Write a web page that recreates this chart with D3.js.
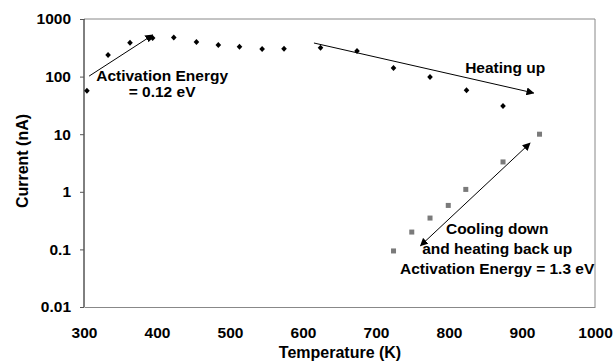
<!DOCTYPE html>
<html>
<head>
<meta charset="utf-8">
<script src="https://cdn.jsdelivr.net/npm/d3@7"></script>
<style>
  body { margin: 0; background: #fff; }
  text { font-family: Arial, "Liberation Sans", sans-serif; font-weight: bold; }
</style>
</head>
<body>
<div id="chart"></div>
<script>
// heating up (diamonds)
const heatT = [304, 333, 363, 390, 394, 423, 454, 484, 513, 544, 574, 624, 674, 724, 774, 824, 874];
const heatI = [57, 237, 388, 470, 470, 475, 399, 354, 330, 301, 305, 318, 278, 141, 98, 58, 31];

// cooling down / heating back up (squares)
const coolT = [724, 749, 774, 799, 823, 874, 924];
const coolI = [0.094, 0.2, 0.35, 0.58, 1.1, 3.3, 10];

const xTicks = [300, 400, 500, 600, 700, 800, 900, 1000];
const yTicks = [0.01, 0.1, 1, 10, 100, 1000];

// arrows: [x1, y1, x2, y2, heads]
const arrows = [
    [307, 102, 394, 527, "end"],
    [615, 383, 916, 52, "end"],
    [911, 7.0, 761, 0.116, "both"]
];

// annotation text, anchored at (temperature, current) of the first baseline
const labels = [
    { t: 407, i: 85, gap: 16, lines: ["Activation Energy", "= 0.12 eV"] },
    { t: 877, i: 115, gap: 0, lines: ["Heating up"] },
    { t: 866, i: 0.185, gap: 20, lines: ["Cooling down", "and heating back up", "Activation Energy = 1.3 eV"] }
];

const W = 616, H = 363;
const margin = { top: 19, right: 21, bottom: 56, left: 84 };
const pw = W - margin.left - margin.right;
const ph = H - margin.top - margin.bottom;

const x = d3.scaleLinear().domain([300, 1000]).range([0, pw]);
const y = d3.scaleLog().domain([0.01, 1000]).range([ph, 0]);

const svg = d3.select("#chart")
    .append("svg")
    .attr("width", W)
    .attr("height", H);

svg.append("defs")
    .append("marker")
    .attr("id", "head")
    .attr("viewBox", "0 0 10 10")
    .attr("refX", 9)
    .attr("refY", 5)
    .attr("markerWidth", 8)
    .attr("markerHeight", 8)
    .attr("markerUnits", "userSpaceOnUse")
    .attr("orient", "auto-start-reverse")
    .append("path")
    .attr("d", "M0,0 L10,5 L0,10 z")
    .attr("fill", "#000");

const g = svg.append("g")
    .attr("transform", "translate(" + margin.left + "," + margin.top + ")");

// plot frame (top & right grey)
g.append("path")
    .attr("d", "M0,0 H" + pw + " V" + ph)
    .attr("fill", "none")
    .attr("stroke", "#888")
    .attr("stroke-width", 1);

const xAxis = d3.axisBottom(x).tickValues(xTicks).tickSize(0).tickPadding(20)
    .tickFormat(d3.format("d"));
const yAxis = d3.axisLeft(y).tickValues(yTicks).tickSize(4).tickPadding(9)
    .tickFormat(d => d < 1 ? String(d) : d3.format("d")(d));

const gx = g.append("g")
    .attr("transform", "translate(0," + ph + ")")
    .call(xAxis);
gx.select(".domain").attr("stroke", "#888");
gx.selectAll("text").attr("font-size", 15.5).attr("fill", "#000");

const gy = g.append("g").call(yAxis);
gy.select(".domain").attr("stroke", "#000").attr("d", "M0,0 V" + ph);
gy.selectAll(".tick line").attr("stroke", "#555");
gy.selectAll("text").attr("font-size", 15.5).attr("fill", "#000");

// axis titles
svg.append("text")
    .attr("x", 340)
    .attr("y", 358)
    .attr("text-anchor", "middle")
    .attr("font-size", 16)
    .text("Temperature (K)");

svg.append("text")
    .attr("transform", "translate(28,161) rotate(-90)")
    .attr("text-anchor", "middle")
    .attr("font-size", 16)
    .text("Current (nA)");

// data points
const heat = heatT.map((t, k) => ({ t: t, i: heatI[k] }));
const cool = coolT.map((t, k) => ({ t: t, i: coolI[k] }));

g.append("g")
    .selectAll("path")
    .data(heat)
    .join("path")
    .attr("transform", d => "translate(" + x(d.t) + "," + y(d.i) + ")")
    .attr("d", "M0,-3 L2.8,0 L0,3 L-2.8,0 z")
    .attr("fill", "#000");

g.append("g")
    .selectAll("rect")
    .data(cool)
    .join("rect")
    .attr("x", d => x(d.t) - 2.5)
    .attr("y", d => y(d.i) - 2.5)
    .attr("width", 5)
    .attr("height", 5)
    .attr("fill", "#7a7a7a");

// arrows
g.append("g")
    .selectAll("line")
    .data(arrows)
    .join("line")
    .attr("x1", d => x(d[0]))
    .attr("y1", d => y(d[1]))
    .attr("x2", d => x(d[2]))
    .attr("y2", d => y(d[3]))
    .attr("stroke", "#000")
    .attr("stroke-width", 1)
    .attr("marker-end", "url(#head)")
    .attr("marker-start", d => d[4] === "both" ? "url(#head)" : null);

// annotation labels
labels.forEach(l => {
    const txt = g.append("text")
        .attr("text-anchor", "middle")
        .attr("font-size", 15.5)
        .attr("x", x(l.t))
        .attr("y", y(l.i));
    l.lines.forEach((s, k) => {
        txt.append("tspan")
            .attr("x", x(l.t))
            .attr("dy", k === 0 ? 0 : l.gap)
            .text(s);
    });
});
</script>
</body>
</html>
